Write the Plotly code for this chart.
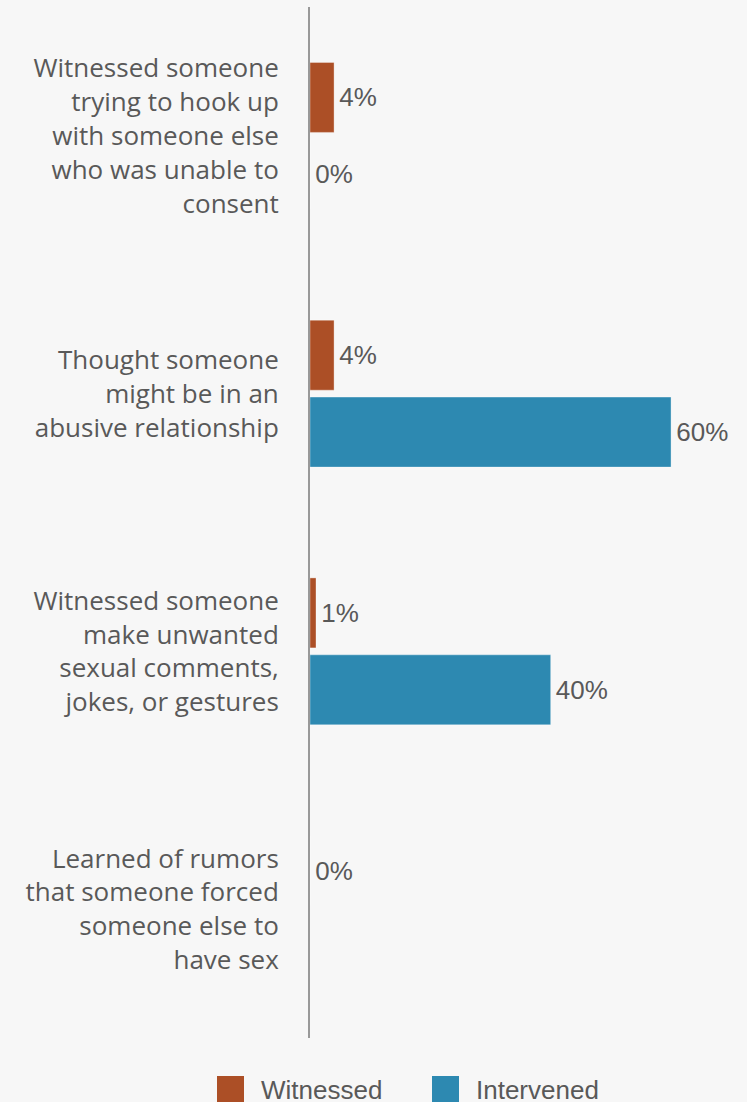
import plotly.graph_objects as go

# Survey categories (top to bottom) and percentages per series
categories = [
    "Witnessed someone<br>trying to hook up<br>with someone else<br>who was unable to<br>consent",
    "Thought someone<br>might be in an<br>abusive relationship",
    "Witnessed someone<br>make unwanted<br>sexual comments,<br>jokes, or gestures",
    "Learned of rumors<br>that someone forced<br>someone else to<br>have sex",
]
witnessed = [4, 4, 1, 0]
intervened = [0, 60, 40, None]

series_names = ["Witnessed", "Intervened"]
series_colors = ["#AC4F26", "#2D89B1"]

W, H = 747, 1102
M_L, M_R, M_T, M_B = 310, 20, 7, 64
BG = "#F7F7F7"
TEXT = "#595959"

fig = go.Figure()
for name, vals, color in zip(series_names, [witnessed, intervened], series_colors):
    fig.add_trace(go.Bar(
        name=name,
        y=categories,
        x=vals,
        orientation="h",
        marker=dict(color=color, line=dict(color="rgba(255,255,255,0.35)", width=1)),
        text=[None if v is None else f"\u200a{v}%" for v in vals],
        textposition="outside",
        cliponaxis=False,
        textfont=dict(family="Liberation Sans, Arial", size=26, color=TEXT),
        showlegend=False,
    ))

# Legend drawn as swatches + labels below the plot
plot_w = W - M_L - M_R
plot_h = H - M_T - M_B


def px_x(px):
    return (px - M_L) / plot_w


def px_y(py):
    return (H - M_B - py) / plot_h


shapes = []
annotations = []
legend_items = [(217, 259), (432, 474)]
for (sx, tx), name, color in zip(legend_items, series_names, series_colors):
    shapes.append(dict(
        type="rect", xref="paper", yref="paper",
        x0=px_x(sx), x1=px_x(sx + 27), y0=px_y(1076), y1=px_y(1103),
        fillcolor=color, line=dict(width=0),
    ))
    annotations.append(dict(
        xref="paper", yref="paper", x=px_x(tx), y=px_y(1090),
        text=name, showarrow=False, xanchor="left", yanchor="middle",
        font=dict(family="Liberation Sans, Arial", size=26, color=TEXT),
    ))

fig.update_layout(
    width=W, height=H,
    margin=dict(l=M_L, r=M_R, t=M_T, b=M_B),
    paper_bgcolor=BG, plot_bgcolor=BG,
    barmode="group",
    bargap=0.403,
    bargroupgap=0.09,
    shapes=shapes,
    annotations=annotations,
    xaxis=dict(range=[0, 69.3], visible=False, fixedrange=True),
    yaxis=dict(
        autorange="reversed",
        showline=True, linecolor="#999999", linewidth=2,
        showgrid=False, zeroline=False, ticks="",
        ticklabelstandoff=24,
        tickfont=dict(family="Open Sans", size=26, color=TEXT),
    ),
)

fig.write_html("out.html")
